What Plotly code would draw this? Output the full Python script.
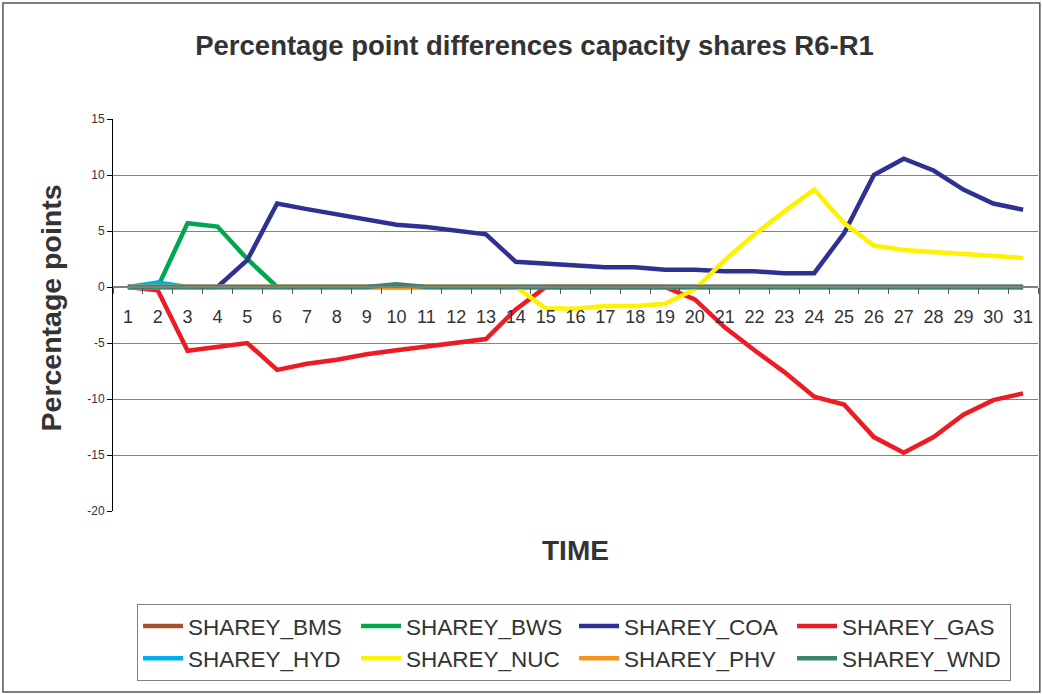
import plotly.graph_objects as go

time_labels = [str(i) for i in range(1, 32)]

share_bms = [0.0] * 31
share_bws = [0, 0, 5.7, 5.4, 2.5, 0, 0, 0, 0, 0, 0, 0, 0, 0, 0, 0, 0, 0, 0, 0,
             0, 0, 0, 0, 0, 0, 0, 0, 0, 0, 0]
share_coa = [0, 0, 0, 0, 2.4, 7.45, 6.95, 6.5, 6.0, 5.55, 5.35, 5.0, 4.7, 2.25, 2.1, 1.95,
             1.77, 1.77, 1.55, 1.55, 1.4, 1.4, 1.23, 1.23, 4.8, 10.0, 11.45, 10.4, 8.7, 7.45, 6.9]
share_gas = [0, -0.3, -5.7, -5.3, -5.0, -7.4, -6.85, -6.5, -6.0, -5.65, -5.35, -5.0, -4.65, -2.0, 0, 0,
             0, 0, 0, -1.1, -3.6, -5.65, -7.6, -9.8, -10.5, -13.4, -14.8, -13.4, -11.4, -10.1, -9.5]
share_hyd = [0, 0.4, 0, 0, 0, 0, 0, 0, 0, 0, 0, 0, 0, 0, 0, 0,
             0, 0, 0, 0, 0, 0, 0, 0, 0, 0, 0, 0, 0, 0, 0]
share_nuc = [0, 0, 0, 0, 0, 0, 0, 0, 0, 0, 0, 0, 0, 0, -1.9, -1.95,
             -1.7, -1.7, -1.5, -0.2, 2.4, 4.7, 6.75, 8.7, 5.7, 3.7, 3.3, 3.1, 2.95, 2.8, 2.6]
share_phv = [0, 0, 0, 0, 0, 0, 0, 0, 0, -0.1, 0, 0, 0, 0, 0, 0,
             0, 0, 0, 0, 0, 0, 0, 0, 0, 0, 0, 0, 0, 0, 0]
share_wnd = [0, 0, 0, 0, 0, 0, 0, 0, 0, 0.25, 0, 0, 0, 0, 0, 0,
             0, 0, 0, 0, 0, 0, 0, 0, 0, 0, 0, 0, 0, 0, 0]

series_names = ["SHAREY_BMS", "SHAREY_BWS", "SHAREY_COA", "SHAREY_GAS",
                "SHAREY_HYD", "SHAREY_NUC", "SHAREY_PHV", "SHAREY_WND"]
series_values = [share_bms, share_bws, share_coa, share_gas,
                 share_hyd, share_nuc, share_phv, share_wnd]
series_colors = ["#A0522D", "#00A651", "#2E3192", "#ED1C24",
                 "#00AEEF", "#FFF200", "#F7941D", "#3B8474"]

y_min, y_max = -20, 15
y_ticks = [-20, -15, -10, -5, 0, 5, 10, 15]
y_tick_text = [str(v) for v in y_ticks]

fig = go.Figure()
for name, vals, col in zip(series_names, series_values, series_colors):
    fig.add_trace(go.Scatter(x=time_labels, y=vals, name=name, mode="lines",
                             line=dict(color=col, width=4.5)))

font_main = "Liberation Sans, Arial, sans-serif"
zero_pos = (0 - y_min) / (y_max - y_min)

fig.update_layout(
    width=1042, height=694,
    paper_bgcolor="white", plot_bgcolor="white",
    margin=dict(l=113, r=4, t=119, b=183, autoexpand=False),
    title=dict(text="<b>Percentage point differences capacity shares R6-R1</b>",
               x=0.513, xanchor="center", y=0.934, yanchor="middle",
               font=dict(family=font_main, size=27.5, color="#333333")),
    showlegend=True,
    legend=dict(orientation="h", x=0.026, xanchor="left", y=-0.237, yanchor="top",
                entrywidth=163, entrywidthmode="pixels",
                bordercolor="#808080", borderwidth=1,
                font=dict(family=font_main, size=22.5, color="#333333"),
                tracegroupgap=0, traceorder="normal", itemwidth=40),
    xaxis=dict(type="category", anchor="free", position=zero_pos,
               showline=True, linecolor="#808080", linewidth=1.5,
               ticks="outside", tickson="boundaries", ticklen=6, tickcolor="#555555",
               showgrid=False, zeroline=False,
               tickfont=dict(family=font_main, size=18, color="#333333"),
               ticklabelstandoff=14,
               range=[-0.5, 30.5]),
    yaxis=dict(range=[y_min, y_max], tickvals=y_ticks, ticktext=y_tick_text,
               showline=True, linecolor="#000000", linewidth=1,
               ticks="outside", ticklen=5, tickcolor="#000000",
               showgrid=True, gridcolor="#B8704F", gridwidth=1,
               zeroline=False,
               tickfont=dict(family=font_main, size=12, color="#333333")),
)

fig.add_annotation(text="<b>Percentage points</b>", xref="paper", yref="paper",
                   x=-0.087, y=0.518, textangle=-90, showarrow=False,
                   font=dict(family=font_main, size=28.5, color="#333333"))
fig.add_annotation(text="<b>TIME</b>", xref="paper", yref="paper",
                   x=0.5, y=-0.145, showarrow=False,
                   font=dict(family=font_main, size=28, color="#333333"))

fig.add_shape(type="rect", xref="paper", yref="paper",
              x0=-0.119, x1=1.002, y0=-0.462, y1=1.296,
              line=dict(color="#555555", width=1.5), fillcolor="rgba(0,0,0,0)", layer="below")

fig.write_html("out.html", config={"displayModeBar": False},
               post_script="document.body.style.margin='0px';")
